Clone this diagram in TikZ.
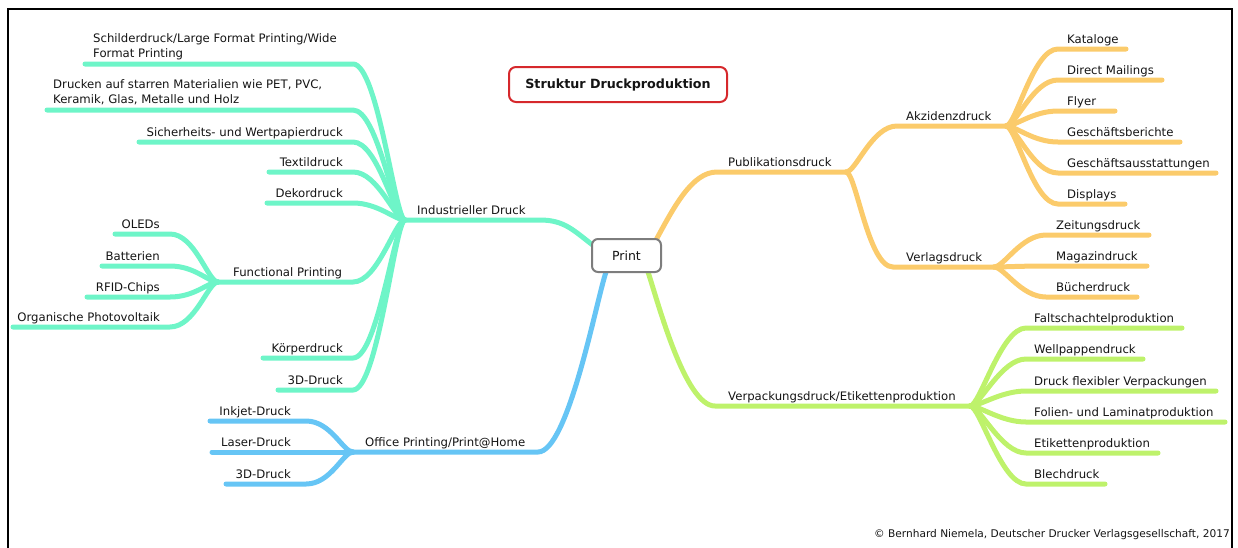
\documentclass[tikz,border=0pt]{standalone}
\usepackage{fontspec}
\setmainfont{DejaVu Sans}
\definecolor{tq}{RGB}{110,245,200}
\definecolor{og}{RGB}{251,203,107}
\definecolor{bl}{RGB}{102,197,245}
\definecolor{gr}{RGB}{190,242,107}
\definecolor{tx}{RGB}{20,20,20}
\definecolor{titlered}{RGB}{214,40,44}
\definecolor{prgray}{RGB}{125,125,125}
\newcommand{\mmL}[6]{\coordinate (#3i) at (#4,#6); \coordinate (#3o) at (#5,#6);
  \draw[br,#1] (#2) .. controls +(-10,0) and +(25,0) .. (#3i) -- (#3o);}
\newcommand{\mmR}[6]{\coordinate (#3i) at (#4,#6); \coordinate (#3o) at (#5,#6);
  \draw[br,#1] (#2) .. controls +(10,0) and +(-25,0) .. (#3i) -- (#3o);}
\begin{document}
\begin{tikzpicture}[x=1pt,y=-1pt,
  br/.style={line width=5pt,line cap=round},
  lbl/.style={inner sep=0pt,text=tx,font=\fontsize{11.7}{15}\selectfont},
  lblL/.style={lbl,anchor=base east},
  lblR/.style={lbl,anchor=base west}]
\useasboundingbox (0,0) rectangle (1238,547);
% frame
\draw[line width=2pt] (8,548) -- (8,8.5) -- (1232,8.5) -- (1232,548);

% connection points on Print
\coordinate (pT) at (594,246);
\coordinate (pO) at (656,240);
\coordinate (pB) at (606,272);
\coordinate (pG) at (648,272);

% main branches
\coordinate (indi) at (540,220); \coordinate (indo) at (405,220);
\draw[br,tq] (pT) .. controls +(-20,-15) and +(25,0) .. (indi) -- (indo);
\coordinate (pubi) at (717,172); \coordinate (pubo) at (846,172);
\draw[br,og] (pO) .. controls +(18,-33) and +(-25,0) .. (pubi) -- (pubo);
\coordinate (offi) at (538,452); \coordinate (offo) at (353,452);
\draw[br,bl] (pB) .. controls +(-10,30) and +(30,0) .. (offi) -- (offo);
\coordinate (verpi) at (715,406); \coordinate (verpo) at (970,406);
\draw[br,gr] (pG) .. controls +(10,30) and +(-30,0) .. (verpi) -- (verpo);

% Industrieller Druck
\mmL{tq}{indo}{sch}{353}{85}{64}
\mmL{tq}{indo}{dru}{353}{47}{110}
\mmL{tq}{indo}{sic}{353}{139}{142}
\mmL{tq}{indo}{tex}{353}{269}{172}
\mmL{tq}{indo}{dek}{353}{267}{203}
\mmL{tq}{indo}{fun}{353}{218}{282}
\mmL{tq}{indo}{kor}{353}{263}{358}
\mmL{tq}{indo}{tdd}{353}{278}{390}
% Functional Printing
\mmL{tq}{funo}{ole}{170}{115}{234}
\mmL{tq}{funo}{bat}{170}{102}{266}
\mmL{tq}{funo}{rfi}{170}{87}{297}
\mmL{tq}{funo}{org}{170}{13}{327}
% Office
\mmL{bl}{offo}{ink}{306}{210}{421}
\mmL{bl}{offo}{las}{306}{212}{452}
\mmL{bl}{offo}{bld}{306}{226}{484}
% Publikationsdruck
\mmR{og}{pubo}{akz}{897}{1006}{126}
\mmR{og}{pubo}{verl}{893}{994}{267}
\mmR{og}{akzo}{kat}{1058}{1126}{49}
\mmR{og}{akzo}{dm}{1058}{1162}{80}
\mmR{og}{akzo}{fly}{1058}{1115}{111}
\mmR{og}{akzo}{gb}{1058}{1180}{142}
\mmR{og}{akzo}{ga}{1058}{1216}{173}
\mmR{og}{akzo}{dis}{1058}{1125}{204}
\mmR{og}{verlo}{zei}{1046}{1149}{235}
\mmR{og}{verlo}{mag}{1046}{1147}{266}
\mmR{og}{verlo}{buc}{1046}{1137}{297}
% Verpackungsdruck
\mmR{gr}{verpo}{fal}{1026}{1182}{328}
\mmR{gr}{verpo}{wel}{1026}{1143}{359}
\mmR{gr}{verpo}{flx}{1026}{1216}{391}
\mmR{gr}{verpo}{fol}{1026}{1225}{422}
\mmR{gr}{verpo}{eti}{1026}{1158}{453}
\mmR{gr}{verpo}{ble}{1026}{1105}{484}

% central and title nodes
\node[draw=prgray,line width=2pt,rounded corners=6pt,fill=white,minimum width=69pt,minimum height=33pt,inner sep=0pt,text=tx,font=\fontsize{12.5}{15}\selectfont] (print) at (626.5,255.5) {Print};
\node[draw=titlered,line width=2pt,rounded corners=7pt,fill=white,minimum width=218pt,minimum height=35pt,inner sep=0pt,text=tx,font=\bfseries\fontsize{12.7}{15}\selectfont] (title) at (618,84.5) {Struktur Druckproduktion};

% labels, left
\node[lbl,anchor=south west,align=left] (tsch) at (93,61) {Schilderdruck/Large Format Printing/Wide\\Format Printing\rule[-3pt]{0pt}{9pt}};
\node[lbl,anchor=south west,align=left] (tdru) at (53,107) {Drucken auf starren Materialien wie PET, PVC,\\Keramik, Glas, Metalle und Holz\rule[-3pt]{0pt}{9pt}};
\node[lblL] (tsic) at (343,136) {Sicherheits- und Wertpapierdruck};
\node[lblL] (ttex) at (343,166) {Textildruck};
\node[lblL] (tdek) at (343,197) {Dekordruck};
\node[lblR] (tind) at (417,214) {Industrieller Druck};
\node[lblR] (tfun) at (233,276) {Functional Printing};
\node[lblL] (tole) at (160,228) {OLEDs};
\node[lblL] (tbat) at (160,260) {Batterien};
\node[lblL] (trfi) at (160,291) {RFID-Chips};
\node[lblL] (torg) at (160,321) {Organische Photovoltaik};
\node[lblL] (tkor) at (343,352) {Körperdruck};
\node[lblL] (ttdd) at (343,384) {3D-Druck};
\node[lblR] (toff) at (365,446) {Office Printing/Print@Home};
\node[lblL] (tink) at (291,415) {Inkjet-Druck};
\node[lblL] (tlas) at (291,446) {Laser-Druck};
\node[lblL] (tbld) at (291,478) {3D-Druck};

% labels, right
\node[lblR] (tpub) at (728,166) {Publikationsdruck};
\node[lblR] (takz) at (906,120) {Akzidenzdruck};
\node[lblR] (tverl) at (906,261) {Verlagsdruck};
\node[lblR] (tkat) at (1067,43) {Kataloge};
\node[lblR] (tdm) at (1067,74) {Direct Mailings};
\node[lblR] (tfly) at (1067,105) {Flyer};
\node[lblR] (tgb) at (1067,136) {Geschäftsberichte};
\node[lblR] (tga) at (1067,167) {Geschäftsausstattungen};
\node[lblR] (tdis) at (1067,198) {Displays};
\node[lblR] (tzei) at (1056,229) {Zeitungsdruck};
\node[lblR] (tmag) at (1056,260) {Magazindruck};
\node[lblR] (tbuc) at (1056,291) {Bücherdruck};
\node[lblR] (tverp) at (728,400) {Verpackungsdruck/Etikettenproduktion};
\node[lblR] (tfal) at (1034,322) {Faltschachtelproduktion};
\node[lblR] (twel) at (1034,353) {Wellpappendruck};
\node[lblR] (tflx) at (1034,385) {Druck flexibler Verpackungen};
\node[lblR] (tfol) at (1034,416) {Folien- und Laminatproduktion};
\node[lblR] (teti) at (1034,447) {Etikettenproduktion};
\node[lblR] (tble) at (1034,478) {Blechdruck};

\node[inner sep=0pt,anchor=base east,text=tx,font=\fontsize{10.6}{12}\selectfont] (copy) at (1230,537) {© Bernhard Niemela, Deutscher Drucker Verlagsgesellschaft, 2017};
\end{tikzpicture}
\end{document}
